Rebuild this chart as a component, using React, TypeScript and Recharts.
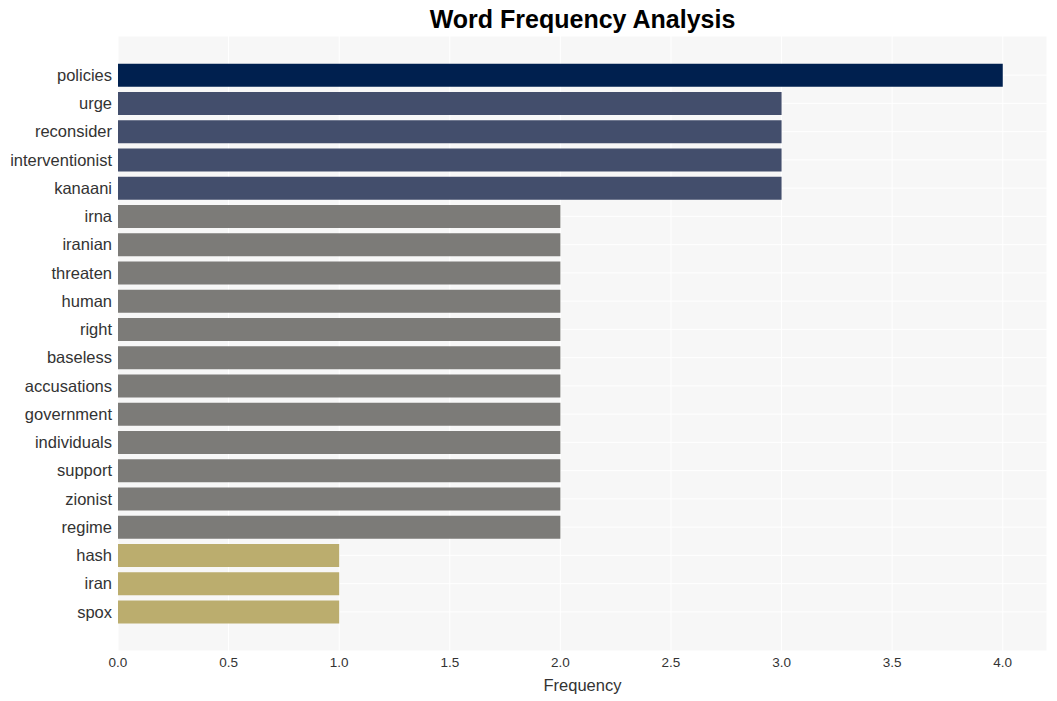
import { BarChart, Bar, XAxis, YAxis, CartesianGrid, Cell } from 'recharts';

document.body.style.margin = '0';

const words = [
  'policies', 'urge', 'reconsider', 'interventionist', 'kanaani', 'irna', 'iranian',
  'threaten', 'human', 'right', 'baseless', 'accusations', 'government', 'individuals',
  'support', 'zionist', 'regime', 'hash', 'iran', 'spox',
];
const counts = [4, 3, 3, 3, 3, 2, 2, 2, 2, 2, 2, 2, 2, 2, 2, 2, 2, 1, 1, 1];
const xTicks = [0, 0.5, 1, 1.5, 2, 2.5, 3, 3.5, 4];

const colorFor = (v: number) =>
  v >= 4 ? '#00204f' : v >= 3 ? '#434e6c' : v >= 2 ? '#7c7b78' : '#bbad6e';

const data = words.map((word, i) => ({ word, count: counts[i] }));

export default function App() {
  return (
    <div style={{ position: 'relative', width: 1057, height: 701, fontFamily: 'Liberation Sans, Arial, sans-serif' }}>
      <div
        style={{
          position: 'absolute', top: 4, left: 118, width: 929, textAlign: 'center',
          fontSize: 25, fontWeight: 'bold', color: '#000', lineHeight: '30px',
        }}
      >
        Word Frequency Analysis
      </div>
      <BarChart
        width={1057}
        height={701}
        data={data}
        layout="vertical"
        margin={{ top: 36, right: 10, bottom: 0, left: 0 }}
        barCategoryGap="10%"
      >
        <CartesianGrid stroke="#ffffff" strokeWidth={1} fill="#f7f7f7" />
        <XAxis
          type="number"
          domain={[0, 4.2]}
          ticks={xTicks}
          tickFormatter={(v: number) => v.toFixed(1)}
          tick={{ fill: '#333', fontSize: 13.5 }}
          tickLine={false}
          axisLine={false}
          tickSize={0}
          tickMargin={6}
          height={50}
          label={{ value: 'Frequency', position: 'insideBottom', offset: 10, fill: '#333', fontSize: 16.5 }}
        />
        <YAxis
          type="category"
          dataKey="word"
          width={118}
          interval={0}
          tick={{ fill: '#333', fontSize: 16.5 }}
          tickLine={false}
          axisLine={false}
          tickSize={0}
          tickMargin={6}
          padding={{ top: 25, bottom: 25 }}
        />
        <Bar dataKey="count" isAnimationActive={false}>
          {data.map((d) => (
            <Cell key={d.word} fill={colorFor(d.count)} />
          ))}
        </Bar>
      </BarChart>
    </div>
  );
}
